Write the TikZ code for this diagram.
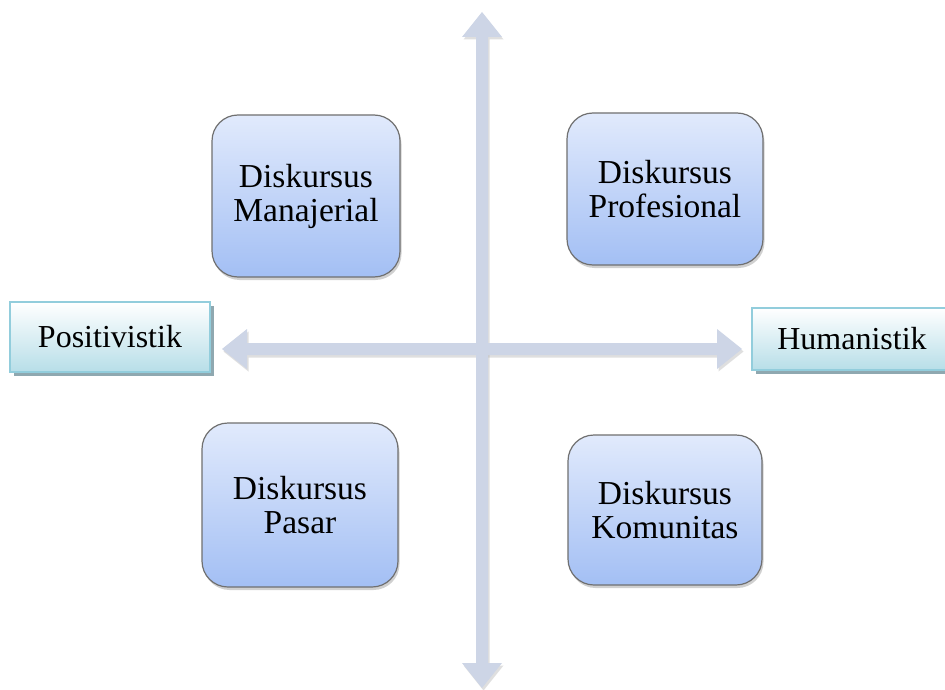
\documentclass[tikz,border=0pt]{standalone}
\usepackage{fontspec}
\setmainfont{Liberation Serif}
\usetikzlibrary{shadows}
\definecolor{arrowfill}{HTML}{CDD5E6}
\definecolor{boxtop}{HTML}{E1EAFC}
\definecolor{boxbot}{HTML}{A3BFF4}
\definecolor{boxline}{HTML}{707070}
\definecolor{tagline}{HTML}{92CDDC}
\definecolor{tagbot}{HTML}{B7DEE8}
\definecolor{tagshadow}{HTML}{8FA8B0}
\begin{document}
\begin{tikzpicture}[x=1pt,y=-1pt,
  bigbox/.style={draw=boxline, line width=1.2pt, rounded corners=26pt,
    top color=boxtop, bottom color=boxbot, inner sep=0pt, align=center,
    font=\fontsize{33.5}{34}\selectfont,
    drop shadow={shadow xshift=1.5pt, shadow yshift=-3pt, opacity=0.3, fill=black!60}},
  tagbox/.style={draw=tagline, line width=1.6pt, top color=white, bottom color=tagbot,
    inner sep=0pt, minimum width=200pt, font=\fontsize{32}{35}\selectfont,
    drop shadow={shadow xshift=4pt, shadow yshift=-4pt, opacity=1, fill=tagshadow}},
  axis/.style={fill=arrowfill, draw=none},
  axisshadow/.style={fill=black!35, opacity=0.35, draw=none}
]
\useasboundingbox (0,0) rectangle (945,690);
\clip (0,0) rectangle (945,690);
\fill[white] (0,0) rectangle (945,690);

% axes: shadow first
\begin{scope}[shift={(1.5,2.5)}]
\fill[axisshadow] (476,37) -- (462,37) -- (482,12) -- (502,37) -- (488,37) -- (488,663) -- (502,663) -- (482,688) -- (462,663) -- (476,663) -- cycle;
\fill[axisshadow] (247,343) -- (247,329) -- (222,349) -- (247,369) -- (247,355) -- (717,355) -- (717,369) -- (742,349) -- (717,329) -- (717,343) -- cycle;
\end{scope}
\coordinate (top) at (482,12);
\coordinate (bottom) at (482,688);
\coordinate (left) at (222,349);
\coordinate (right) at (742,349);
\fill[axis] (476,37) -- (462,37) -- (top) -- (502,37) -- (488,37) -- (488,663) -- (502,663) -- (bottom) -- (462,663) -- (476,663) -- cycle;
\fill[axis] (247,343) -- (247,329) -- (left) -- (247,369) -- (247,355) -- (717,355) -- (717,369) -- (right) -- (717,329) -- (717,343) -- cycle;

% quadrant boxes
\node[bigbox, minimum width=188pt, minimum height=162pt] (man) at (306,196) {Diskursus\\Manajerial};
\node[bigbox, minimum width=196pt, minimum height=152pt] (pro) at (665,189) {Diskursus\\Profesional};
\node[bigbox, minimum width=196pt, minimum height=164pt] (pas) at (300,505) {Diskursus\\Pasar};
\node[bigbox, minimum width=194pt, minimum height=150pt] (kom) at (665,510) {Diskursus\\Komunitas};

% axis labels
\node[tagbox, minimum height=70pt] (pos) at (110,337) {Positivistik};
\node[tagbox, minimum height=62pt] (hum) at (852,339) {Humanistik};
\end{tikzpicture}
\end{document}
